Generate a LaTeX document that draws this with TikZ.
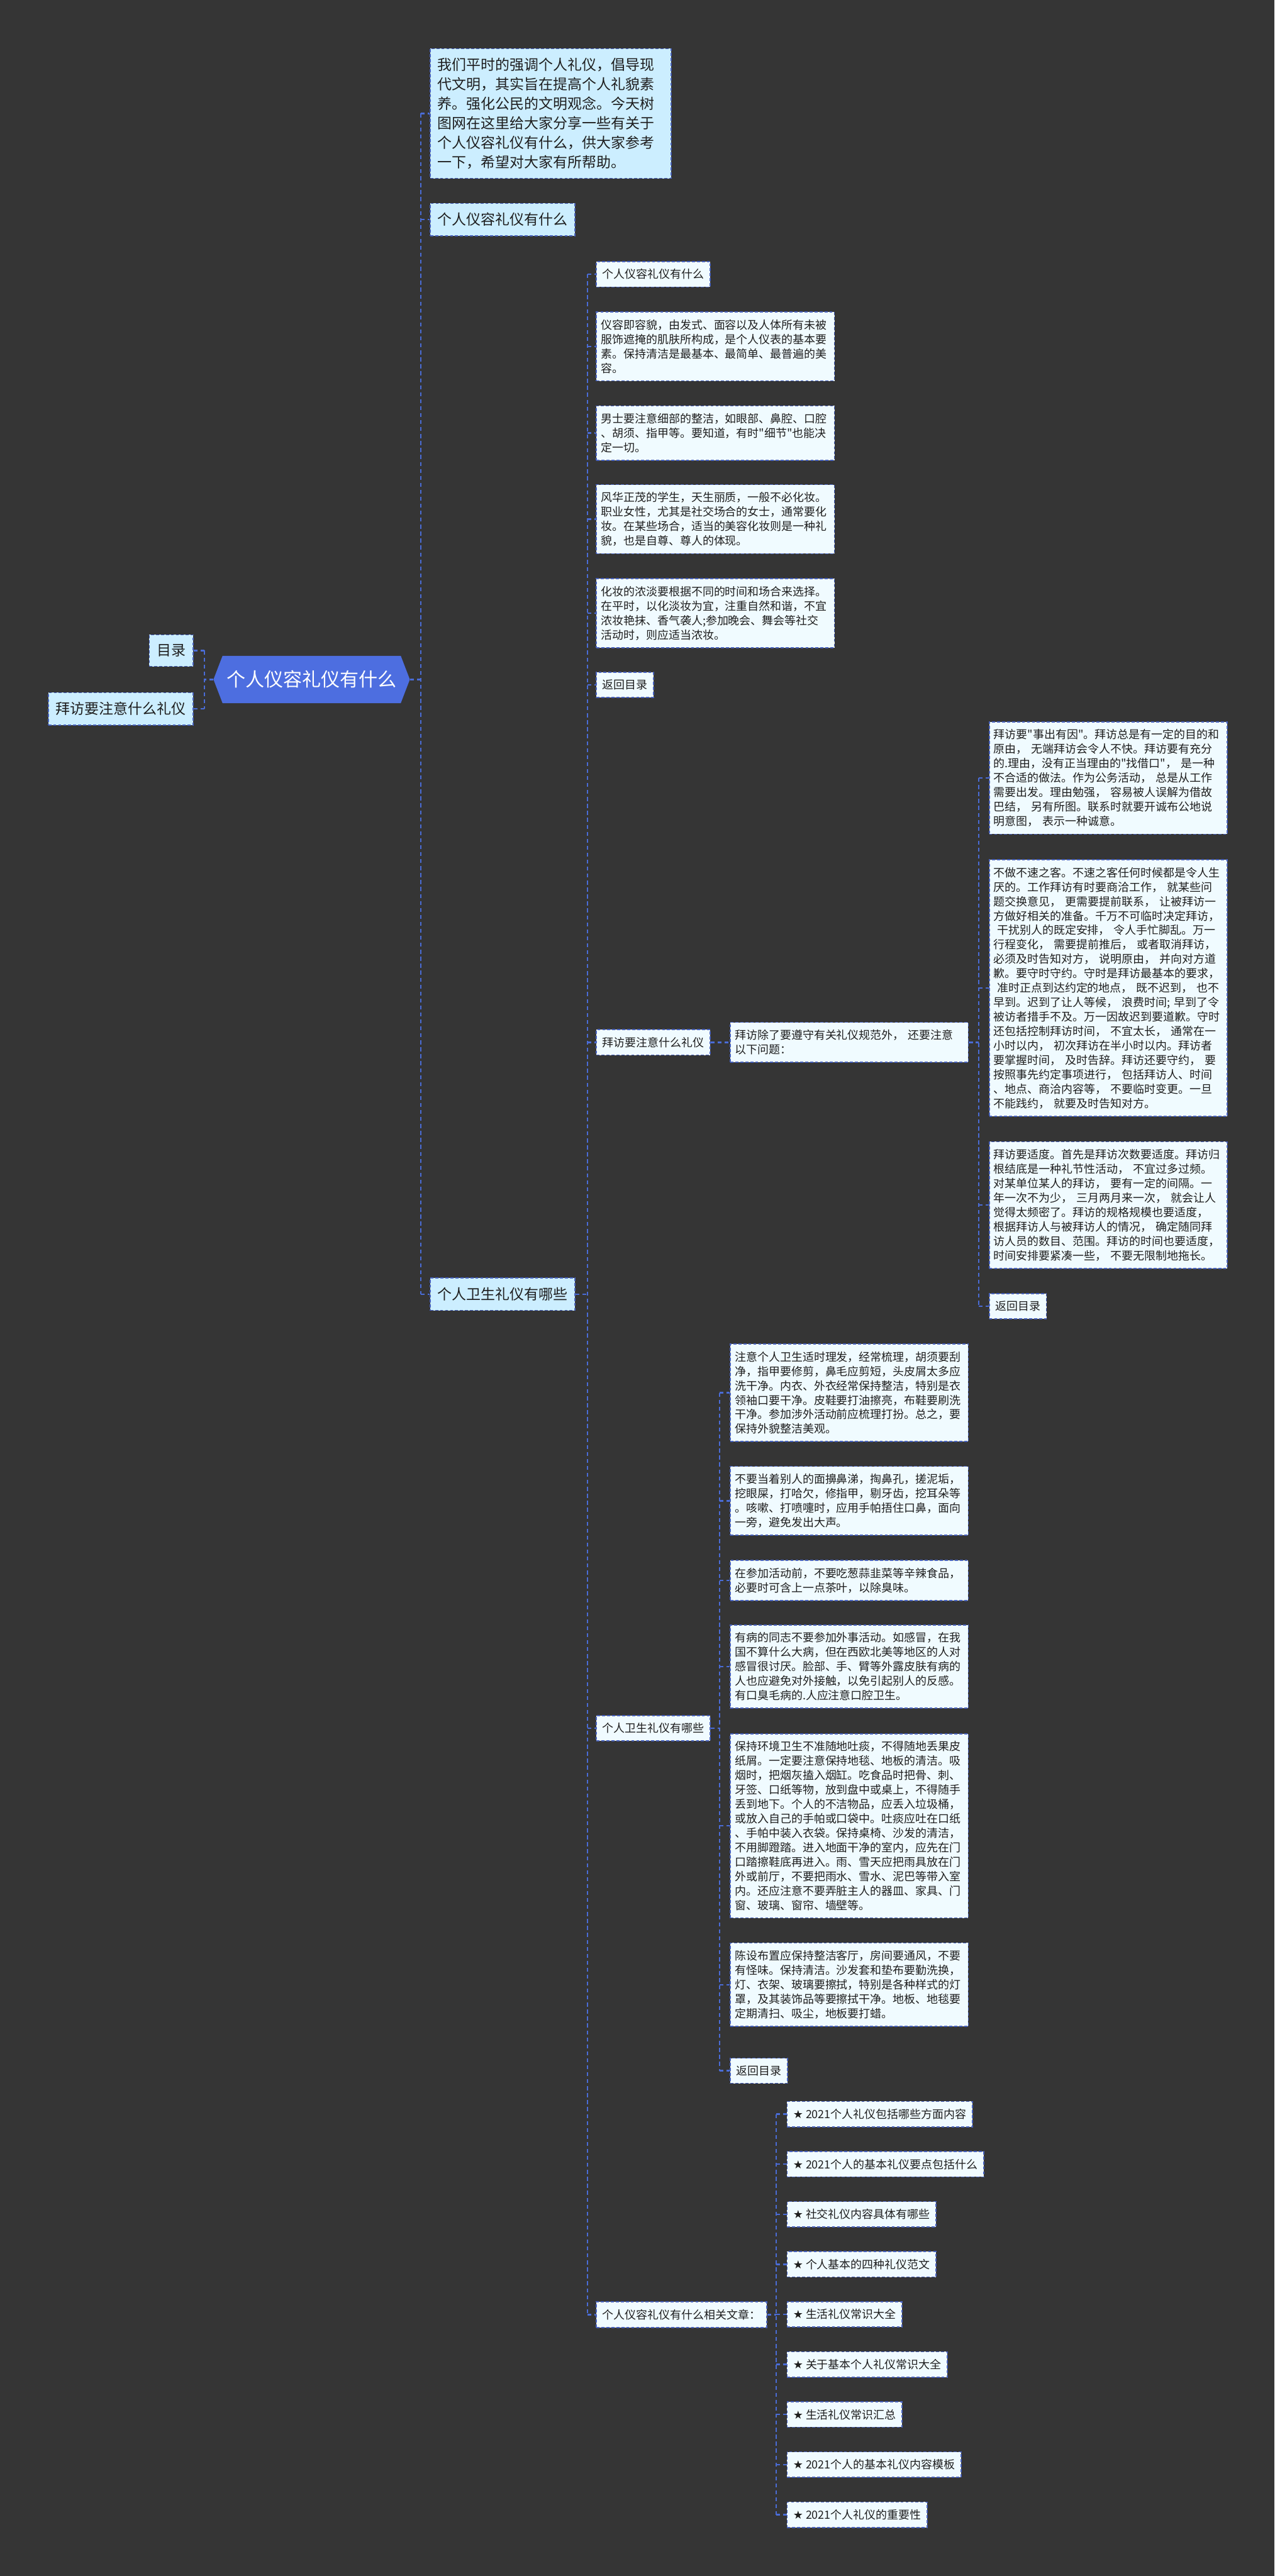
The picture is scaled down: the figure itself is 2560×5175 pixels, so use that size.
\documentclass[tikz,border=0pt]{standalone}
\usepackage{fontspec}
\setmainfont{Noto Sans CJK SC}
\newfontfamily\symfont{DejaVu Sans}
\usetikzlibrary{shapes.symbols}
\definecolor{bgdark}{RGB}{53,53,53}
\definecolor{linkblue}{RGB}{74,108,214}
\definecolor{edgeblue}{RGB}{72,98,190}
\definecolor{paper}{RGB}{240,251,255}
\definecolor{cyanfill}{RGB}{204,238,255}
\definecolor{rootblue}{RGB}{77,110,224}
\definecolor{ink}{RGB}{30,30,30}
% straight quote, kept out of the TeX mapping
\newcommand{\sq}{\XeTeXglyph\XeTeXcharglyph"22\relax}

\begin{document}
\begin{tikzpicture}[x=0.5pt, y=-0.5pt,
  link/.style={draw=linkblue, line width=1.5pt, dash pattern=on 4pt off 3pt},
  box/.style={draw=edgeblue, line width=1pt, dash pattern=on 3pt off 2pt, fill=paper,
              text=ink, inner xsep=6pt, inner ysep=7.5pt,
              font=\fontsize{11.35}{14.5}\selectfont, anchor=west},
  tag/.style={box},
  para/.style={box, text width=230pt, inner xsep=4.5pt, align=left},
  topic/.style={box, fill=cyanfill, inner xsep=7.5pt, inner ysep=9.5pt,
                font=\fontsize{14.5}{19.5}\selectfont},
  centre/.style={signal, signal to=west and east, signal pointer angle=138,
                 fill=rootblue, text=white, inner xsep=4pt, minimum height=47.5pt,
                 font=\fontsize{19}{23}\selectfont}
]
\useasboundingbox (0,0) rectangle (2560,5175);
\fill[bgdark] (0,0) rectangle (2560,5175);

% centre and first level
\node[centre] (root) at (626,1365) {个人仪容礼仪有什么};
\node[topic, anchor=east] (mulu) at (389,1307) {目录};
\node[topic, anchor=east] (baifangL) at (389,1424) {拜访要注意什么礼仪};
\node[topic, text width=227pt, align=left] (intro) at (863,228) {我们平时的强调个人礼仪，倡导现\\代文明，其实旨在提高个人礼貌素\\养。强化公民的文明观念。今天树\\图网在这里给大家分享一些有关于\\个人仪容礼仪有什么，供大家参考\\一下，希望对大家有所帮助。};
\node[topic] (yirong) at (863,441) {个人仪容礼仪有什么};
\node[topic] (weisheng) at (863,2600) {个人卫生礼仪有哪些};

% second level
\node[tag] (t1) at (1197,551) {个人仪容礼仪有什么};
\node[para] (t2) at (1197,696) {仪容即容貌，由发式、面容以及人体所有未被\\服饰遮掩的肌肤所构成，是个人仪表的基本要\\素。保持清洁是最基本、最简单、最普遍的美\\容。};
\node[para] (t3) at (1197,870) {男士要注意细部的整洁，如眼部、鼻腔、口腔\\、胡须、指甲等。要知道，有时\sq 细节\sq 也能决\\定一切。};
\node[para] (t4) at (1197,1043) {风华正茂的学生，天生丽质，一般不必化妆。\\职业女性，尤其是社交场合的女士，通常要化\\妆。在某些场合，适当的美容化妆则是一种礼\\貌，也是自尊、尊人的体现。};
\node[para] (t5) at (1197,1232) {化妆的浓淡要根据不同的时间和场合来选择。\\在平时，以化淡妆为宜，注重自然和谐，不宜\\浓妆艳抹、香气袭人;参加晚会、舞会等社交\\活动时，则应适当浓妆。};
\node[tag] (t6) at (1197,1376) {返回目录};
\node[tag] (t7) at (1197,2094) {拜访要注意什么礼仪};
\node[tag] (t8) at (1197,3472) {个人卫生礼仪有哪些};
\node[tag] (t9) at (1197,4650) {个人仪容礼仪有什么相关文章：};

% visiting branch
\node[para] (f0) at (1466,2094) {拜访除了要遵守有关礼仪规范外， 还要注意\\以下问题：};
\node[para] (f1) at (1986,1563) {拜访要\sq 事出有因\sq 。拜访总是有一定的目的和\\原由， 无端拜访会令人不快。拜访要有充分\\的.理由，没有正当理由的\sq 找借口\sq ， 是一种\\不合适的做法。作为公务活动， 总是从工作\\需要出发。理由勉强， 容易被人误解为借故\\巴结， 另有所图。联系时就要开诚布公地说\\明意图， 表示一种诚意。};
\node[para] (f2) at (1986,1985) {不做不速之客。不速之客任何时候都是令人生\\厌的。工作拜访有时要商洽工作， 就某些问\\题交换意见， 更需要提前联系， 让被拜访一\\方做好相关的准备。千万不可临时决定拜访，\\\hspace*{.3em}干扰别人的既定安排， 令人手忙脚乱。万一\\行程变化， 需要提前推后， 或者取消拜访，\\必须及时告知对方， 说明原由， 并向对方道\\歉。要守时守约。守时是拜访最基本的要求，\\\hspace*{.3em}准时正点到达约定的地点， 既不迟到， 也不\\早到。迟到了让人等候， 浪费时间; 早到了令\\被访者措手不及。万一因故迟到要道歉。守时\\还包括控制拜访时间， 不宜太长， 通常在一\\小时以内， 初次拜访在半小时以内。拜访者\\要掌握时间， 及时告辞。拜访还要守约， 要\\按照事先约定事项进行， 包括拜访人、时间\\、地点、商洽内容等， 不要临时变更。一旦\\不能践约， 就要及时告知对方。};
\node[para] (f3) at (1986,2421) {拜访要适度。首先是拜访次数要适度。拜访归\\根结底是一种礼节性活动， 不宜过多过频。\\对某单位某人的拜访， 要有一定的间隔。一\\年一次不为少， 三月两月来一次， 就会让人\\觉得太频密了。拜访的规格规模也要适度，\\根据拜访人与被拜访人的情况， 确定随同拜\\访人员的数目、范围。拜访的时间也要适度，\\时间安排要紧凑一些， 不要无限制地拖长。};
\node[tag] (f4) at (1986,2624) {返回目录};

% hygiene branch
\node[para] (w1) at (1466,2798) {注意个人卫生适时理发，经常梳理，胡须要刮\\净，指甲要修剪，鼻毛应剪短，头皮屑太多应\\洗干净。内衣、外衣经常保持整洁，特别是衣\\领袖口要干净。皮鞋要打油擦亮，布鞋要刷洗\\干净。参加涉外活动前应梳理打扮。总之，要\\保持外貌整洁美观。};
\node[para] (w2) at (1466,3015) {不要当着别人的面擤鼻涕，掏鼻孔，搓泥垢，\\挖眼屎，打哈欠，修指甲，剔牙齿，挖耳朵等\\。咳嗽、打喷嚏时，应用手帕捂住口鼻，面向\\一旁，避免发出大声。};
\node[para] (w3) at (1466,3175) {在参加活动前，不要吃葱蒜韭菜等辛辣食品，\\必要时可含上一点茶叶，以除臭味。};
\node[para] (w4) at (1466,3348) {有病的同志不要参加外事活动。如感冒，在我\\国不算什么大病，但在西欧北美等地区的人对\\感冒很讨厌。脸部、手、臂等外露皮肤有病的\\人也应避免对外接触，以免引起别人的反感。\\有口臭毛病的.人应注意口腔卫生。};
\node[para] (w5) at (1466,3668) {保持环境卫生不准随地吐痰，不得随地丢果皮\\纸屑。一定要注意保持地毯、地板的清洁。吸\\烟时，把烟灰搕入烟缸。吃食品时把骨、刺、\\牙签、口纸等物，放到盘中或桌上，不得随手\\丢到地下。个人的不洁物品，应丢入垃圾桶，\\或放入自己的手帕或口袋中。吐痰应吐在口纸\\、手帕中装入衣袋。保持桌椅、沙发的清洁，\\不用脚蹬踏。进入地面干净的室内，应先在门\\口踏擦鞋底再进入。雨、雪天应把雨具放在门\\外或前厅，不要把雨水、雪水、泥巴等带入室\\内。还应注意不要弄脏主人的器皿、家具、门\\窗、玻璃、窗帘、墙壁等。};
\node[para] (w6) at (1466,3987) {陈设布置应保持整洁客厅，房间要通风，不要\\有怪味。保持清洁。沙发套和垫布要勤洗换，\\灯、衣架、玻璃要擦拭，特别是各种样式的灯\\罩，及其装饰品等要擦拭干净。地板、地毯要\\定期清扫、吸尘，地板要打蜡。};
\node[tag] (w7) at (1466,4160) {返回目录};

% related articles
\foreach \txt [count=\i] in {2021个人礼仪包括哪些方面内容,2021个人的基本礼仪要点包括什么,社交礼仪内容具体有哪些,个人基本的四种礼仪范文,生活礼仪常识大全,关于基本个人礼仪常识大全,生活礼仪常识汇总,2021个人的基本礼仪内容模板,2021个人礼仪的重要性}
  \node[tag] (a\i) at (1580,{4247+100.6*(\i-1)}) {{\symfont ★} \txt};

% spines
\coordinate (s0) at (411,0);
\coordinate (s1) at (845,0);
\coordinate (s2) at (1180,0);
\coordinate (s3) at (1445,0);
\coordinate (s4) at (1966,0);
\coordinate (s5) at (1559,0);

% connectors
\draw[link] (root.west) -- (s0 |- root.west);
\draw[link] (s0 |- mulu.east) -- (s0 |- baifangL.east);
\foreach \n in {mulu,baifangL}
  \draw[link] (s0 |- \n.east) -- (\n.east);

\draw[link] (root.east) -- (s1 |- root.east);
\draw[link] (s1 |- intro.west) -- (s1 |- weisheng.west);
\foreach \n in {intro,yirong,weisheng}
  \draw[link] (s1 |- \n.west) -- (\n.west);

\draw[link] (weisheng.east) -- (s2 |- weisheng.east);
\draw[link] (s2 |- t1.west) -- (s2 |- t9.west);
\foreach \n in {t1,t2,t3,t4,t5,t6,t7,t8,t9}
  \draw[link] (s2 |- \n.west) -- (\n.west);

\draw[link] (t7.east) -- (f0.west);
\draw[link] (f0.east) -- (s4 |- f0.east);
\draw[link] (s4 |- f1.west) -- (s4 |- f4.west);
\foreach \n in {f1,f2,f3,f4}
  \draw[link] (s4 |- \n.west) -- (\n.west);

\draw[link] (t8.east) -- (s3 |- t8.east);
\draw[link] (s3 |- w1.west) -- (s3 |- w7.west);
\foreach \n in {w1,w2,w3,w4,w5,w6,w7}
  \draw[link] (s3 |- \n.west) -- (\n.west);

\draw[link] (t9.east) -- (s5 |- t9.east);
\draw[link] (s5 |- a1.west) -- (s5 |- a9.west);
\foreach \i in {1,...,9}
  \draw[link] (s5 |- a\i.west) -- (a\i.west);
\end{tikzpicture}
\end{document}
